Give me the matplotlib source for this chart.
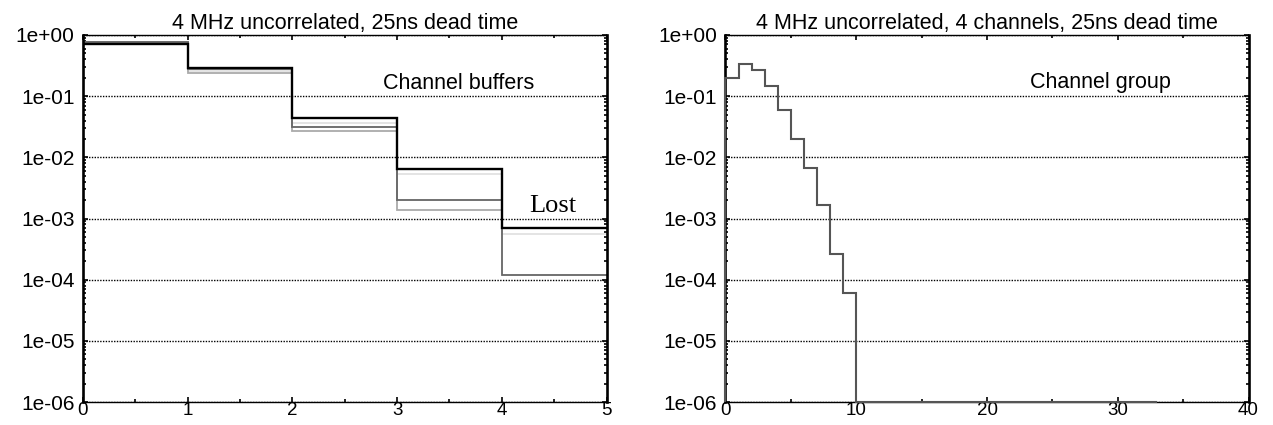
import numpy as np
import matplotlib
matplotlib.use("Agg")
import matplotlib.pyplot as plt
from matplotlib.ticker import LogLocator, MultipleLocator, FuncFormatter, NullFormatter

plt.rcParams['font.family'] = ['Liberation Sans', 'DejaVu Sans']

# ---------------- data ----------------
# Left panel: channel buffer occupancy (bins 0..5)
buffer_edges = [0, 1, 2, 3, 4, 5]
buffer_edges_short = [0, 1, 2, 3, 4]
buf_black = [0.705, 0.293, 0.0438, 0.00652, 6.9e-4]
buf_light = [0.77, 0.262, 0.0371, 0.00535, 5.67e-4]
buf_dark = [0.76, 0.28, 0.0316, 0.0020, 1.18e-4]
buf_medium = [0.78, 0.237, 0.0272, 0.0014]

# Right panel: channel group occupancy (bins 0..33)
group_edges = list(range(0, 34))
group_values = [0.196, 0.336, 0.272, 0.145, 0.059, 0.0198, 0.00676, 0.00164,
                2.67e-4, 6.0e-5,
                1e-6, 1e-6, 1e-6, 1e-6, 1e-6, 1e-6, 1e-6, 1e-6, 1e-6, 1e-6,
                1e-6, 1e-6, 1e-6, 1e-6, 1e-6, 1e-6, 1e-6, 1e-6, 1e-6, 1e-6,
                1e-6, 1e-6, 1e-6]

left_title = "4 MHz uncorrelated, 25ns dead time"
right_title = "4 MHz uncorrelated, 4 channels, 25ns dead time"

# ---------------- figure ----------------
W, H = 1273, 425
fig = plt.figure(figsize=(W / 100, H / 100), dpi=100)

def px_axes(x0, x1, y0, y1):
    return fig.add_axes([x0 / W, 1 - y1 / H, (x1 - x0) / W, (y1 - y0) / H])

axL = px_axes(83, 606.5, 35, 402)
axR = px_axes(725.5, 1248.5, 35, 402)

dot = (0, (1, 1))

def style(ax, xmax, major, minor):
    ax.set_yscale('log')
    ax.set_ylim(1e-6, 1e0)
    ax.set_xlim(0, xmax)
    ax.yaxis.set_major_locator(LogLocator(base=10, numticks=10))
    ax.yaxis.set_minor_locator(LogLocator(base=10, subs=np.arange(2, 10), numticks=20))
    ax.yaxis.set_minor_formatter(NullFormatter())
    ax.yaxis.set_major_formatter(FuncFormatter(lambda v, p: f"{v:.0e}"))
    ax.xaxis.set_major_locator(MultipleLocator(major))
    ax.xaxis.set_minor_locator(MultipleLocator(minor))
    ax.tick_params(which='both', direction='in', top=True, bottom=True,
                   left=True, right=True, color='black', width=1.2)
    ax.tick_params(which='major', length=3.5)
    ax.tick_params(which='minor', length=2.2)
    ax.tick_params(axis='x', pad=0, labelsize=13.5)
    ax.tick_params(axis='y', pad=6, labelsize=15)
    for s in ['left', 'right']:
        ax.spines[s].set_linewidth(1.9)
    for s in ['top', 'bottom']:
        ax.spines[s].set_linestyle(dot)
        ax.spines[s].set_linewidth(1.0)
    ax.yaxis.grid(True, which='major', linestyle=dot, color='black', linewidth=1.0)
    ax.set_axisbelow(True)

style(axL, 5, 1, 0.5)
style(axR, 40, 10, 5)

# left panel
axL.stairs(buf_light, buffer_edges, baseline=None, color='#e2e2e2', linewidth=1.3)
axL.stairs(buf_medium, buffer_edges_short, baseline=None, color='#aaaaaa', linewidth=1.3)
axL.stairs(buf_dark, buffer_edges, baseline=None, color='#666666', linewidth=1.3)
axL.stairs(buf_black, buffer_edges, baseline=None, color='black', linewidth=1.7)

axL.text(2.87, 0.132, "Channel buffers", fontsize=15.5, ha='left', va='baseline')
axL.text(4.49, 1.26e-3, "Lost", fontsize=19, ha='center', va='baseline',
         family=['Liberation Serif', 'DejaVu Serif'])
axL.set_title(left_title, fontsize=15.5, pad=4.5)

# right panel
axR.stairs(group_values, group_edges, baseline=1e-6, color='#555555',
           linewidth=1.5, zorder=3, clip_on=False)
axR.text(23.3, 0.134, "Channel group", fontsize=15.5, ha='left', va='baseline')
axR.set_title(right_title, fontsize=15.5, pad=4.5)

fig.savefig("out.png", dpi=100)
